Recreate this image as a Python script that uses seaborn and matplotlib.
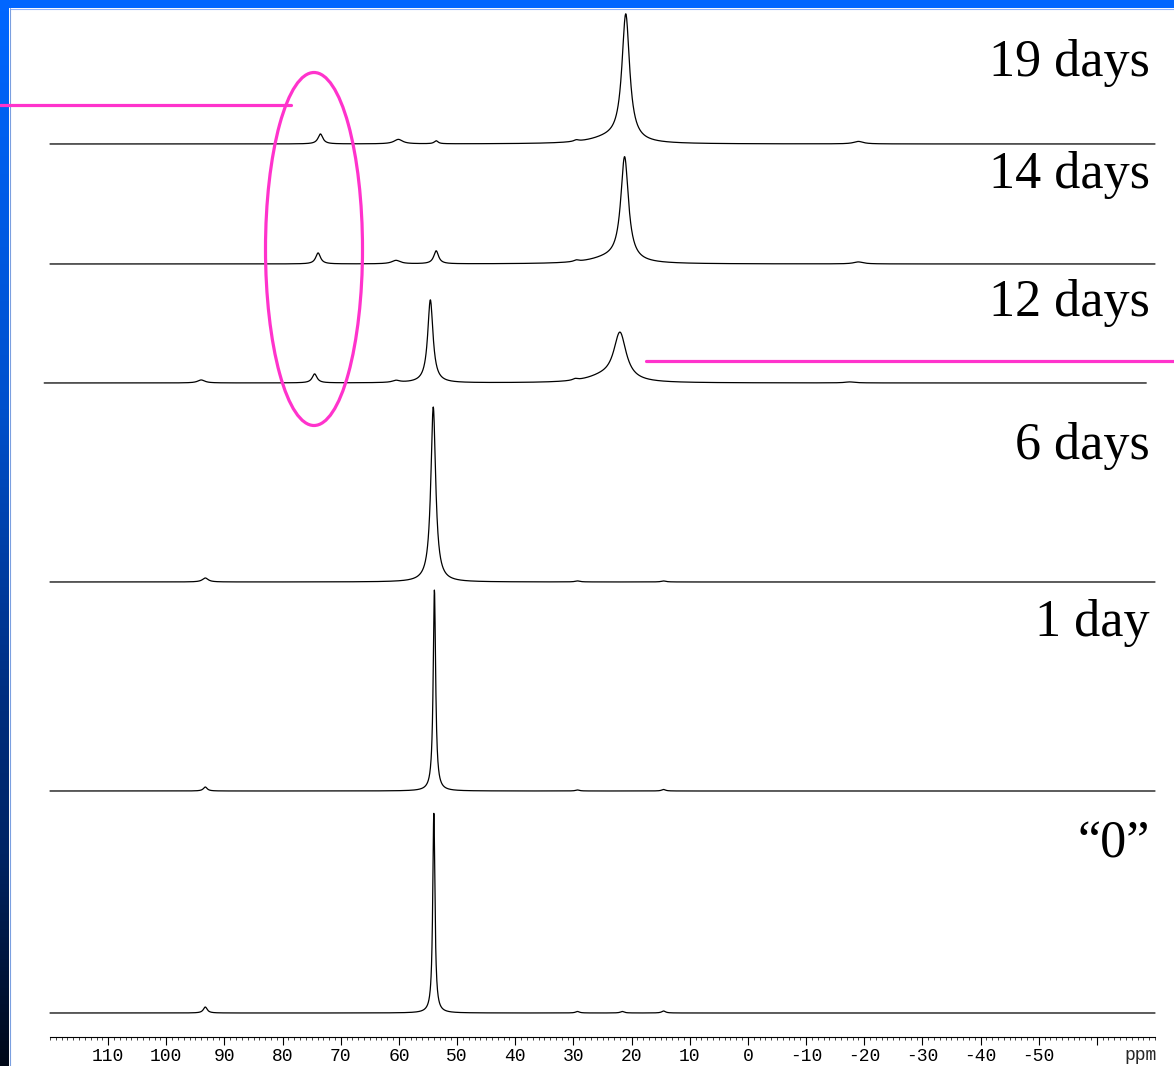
import numpy as np
import pandas as pd
import matplotlib
matplotlib.use("Agg")
import matplotlib.pyplot as plt
from matplotlib.patches import Ellipse, Rectangle
from matplotlib.lines import Line2D
from matplotlib.colors import LinearSegmentedColormap
from matplotlib.ticker import MultipleLocator
import seaborn as sns

# Peak tables for each spectrum: (shift in ppm, intensity, line width FWHM in ppm)
peaks_day0 = [(54.0, 201, 0.45), (93.3, 6, 0.8), (29.3, 1.5, 0.8),
              (21.6, 1.5, 0.8), (14.5, 2.0, 0.8)]
peaks_day1 = [(53.9, 201, 0.5), (93.3, 4, 0.8), (29.3, 1.0, 0.8),
              (14.5, 1.5, 0.8)]
peaks_day6 = [(54.1, 175, 1.0), (93.3, 4, 1.2), (29.3, 1.0, 1.0),
              (14.5, 1.0, 1.0)]
peaks_day12 = [(54.6, 83, 1.1), (22.0, 48, 2.6), (25.0, 5, 7.0), (74.5, 9, 1.0),
               (94.0, 3, 1.5), (60.5, 2, 1.5), (29.7, 1.5, 1.0), (-17.5, 1, 2.0)]
peaks_day14 = [(21.2, 104, 1.6), (24.0, 5, 8.0), (73.9, 11, 1.0), (53.6, 13, 1.0),
               (60.5, 3.5, 1.8), (29.5, 1.5, 1.0), (-19.0, 2, 2.0)]
peaks_day19 = [(21.0, 127, 1.6), (24.0, 5, 8.0), (73.5, 10, 1.0), (60.1, 4.5, 1.8),
               (53.6, 3, 0.8), (29.5, 1.5, 1.0), (-19.0, 2.5, 2.0)]

spectrum_labels = ["\u201c0\u201d", "1 day", "6 days", "12 days", "14 days", "19 days"]
spectrum_peaks = [peaks_day0, peaks_day1, peaks_day6, peaks_day12, peaks_day14, peaks_day19]
# recorded sweep (start, end) in ppm for each spectrum
spectrum_ranges = [(120, -70), (120, -70), (120, -70), (121, -68.5), (120, -70), (120, -70)]

tick_values = list(range(110, -61, -10))
tick_labels = [str(v) for v in tick_values[:-1]] + [""]

# ---- layout (figure pixels) ----
W, H = 1174, 1066
DPI = 100
axis_y_px = 1037            # x-axis line position from top
baseline_px = [1013, 791, 582, 383, 264, 144]
label_baseline_px = [858, 636, 459, 316, 188, 76]


def lorentz_sum(x, peaks):
    y = np.zeros_like(x)
    for c, h, w in peaks:
        y += h / (1.0 + ((x - c) / (w / 2.0)) ** 2)
    return y


frames = []
for name, pk, (x0, x1), bpx in zip(spectrum_labels, spectrum_peaks, spectrum_ranges, baseline_px):
    ppm = np.linspace(x0, x1, 5000)
    frames.append(pd.DataFrame({
        "ppm": ppm,
        "signal": lorentz_sum(ppm, pk) + (axis_y_px - bpx),
        "spectrum": name,
    }))
data = pd.concat(frames, ignore_index=True)

sns.set_style("white")
plt.rcParams["font.family"] = ["Liberation Serif", "DejaVu Serif"]

fig = plt.figure(figsize=(W / DPI, H / DPI), dpi=DPI)
fig.patch.set_facecolor("white")

ax = fig.add_axes([50 / W, (H - axis_y_px) / H, 1105 / W, axis_y_px / H])
ax.set_facecolor("none")
for name in spectrum_labels:
    sub = data[data["spectrum"] == name]
    sns.lineplot(data=sub, x="ppm", y="signal", ax=ax, color="black",
                 linewidth=0.9, sort=False, estimator=None, legend=False,
                 clip_on=False)

ax.set_xlim(120, -70)
ax.set_ylim(0, axis_y_px)
ax.set_xlabel("")
ax.set_ylabel("")
ax.set_yticks([])
for s in ["top", "left", "right"]:
    ax.spines[s].set_visible(False)
ax.spines["bottom"].set_linewidth(0.8)
ax.spines["bottom"].set_color("black")
ax.set_xticks(tick_values)
ax.set_xticklabels(tick_labels, family="Liberation Mono", fontsize=13)
ax.xaxis.set_minor_locator(MultipleLocator(1))
ax.tick_params(axis="x", which="major", direction="out", length=6, width=0.8,
               pad=2, colors="black", bottom=True)
ax.tick_params(axis="x", which="minor", direction="out", length=2.5, width=0.6,
               bottom=True)
ax.text(-67.5, -18 / axis_y_px, "ppm", transform=ax.get_xaxis_transform(),
        ha="center", va="center", family="Liberation Mono", fontsize=13)

# spectrum labels
for name, ypx in zip(spectrum_labels, label_baseline_px):
    fig.text(1150 / W, 1 - ypx / H, name, ha="right", va="baseline",
             fontsize=37.5, family="Liberation Serif", color="black")

# highlight ellipse and marker lines
pink = "#ff33cc"
fig.add_artist(Ellipse((314 / W, 1 - 249 / H), 97 / W, 353 / H,
                       transform=fig.transFigure, fill=False,
                       edgecolor=pink, linewidth=2.3, zorder=20))
fig.add_artist(Line2D([0, 291 / W], [1 - 105 / H] * 2, transform=fig.transFigure,
                      color=pink, linewidth=2.3, zorder=20))
fig.add_artist(Line2D([646 / W, 1], [1 - 361 / H] * 2, transform=fig.transFigure,
                      color=pink, linewidth=2.3, zorder=20))

# frame: bright top bar and fading left bar
fig.add_artist(Rectangle((0, 1 - 8 / H), 1, 8 / H, transform=fig.transFigure,
                         facecolor="#0066ff", edgecolor="none", zorder=5))
fig.add_artist(Line2D([10 / W, 1], [1 - 8.5 / H] * 2, transform=fig.transFigure,
                      color="#8fb5ff", linewidth=0.8, zorder=5))
side = fig.add_axes([0, 0, 9 / W, 1 - 8 / H], zorder=4)
side_cmap = LinearSegmentedColormap.from_list(
    "side", [(0.0, "#000818"), (0.2, "#002464"), (0.35, "#002e80"),
             (0.62, "#0050cc"), (1.0, "#0066ff")])
side.imshow(np.linspace(0, 1, 512).reshape(-1, 1), cmap=side_cmap,
            aspect="auto", origin="lower", extent=[0, 1, 0, 1])
side.set_axis_off()
fig.add_artist(Line2D([9.5 / W] * 2, [0, 1 - 8 / H], transform=fig.transFigure,
                      color="#7a9fe0", linewidth=0.8, zorder=5))

fig.savefig("out.png", dpi=DPI, facecolor="white")
